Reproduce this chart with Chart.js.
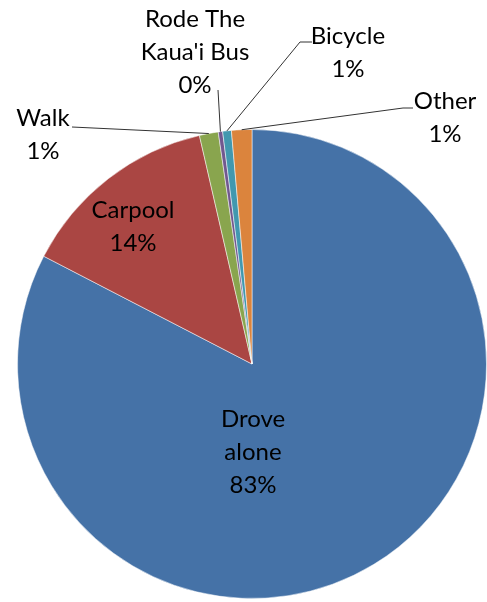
<!DOCTYPE html>
<html>
<head>
<meta charset="utf-8">
<script src="https://cdn.jsdelivr.net/npm/chart.js@4"></script>
<style>
  html, body { margin: 0; padding: 0; background: #fff; }
  #wrap { width: 487px; height: 602px; }
</style>
</head>
<body>
<div id="wrap"><canvas id="js--chart-1"></canvas></div>
<script>
const categories = ["Drove alone", "Carpool", "Walk", "Rode The Kaua'i Bus", "Bicycle", "Other"];
const shares = [82.6, 13.8, 1.3, 0.3, 0.6, 1.4];
const labelLines = [["Drove", "alone"], ["Carpool"], ["Walk"], ["Rode The", "Kaua'i Bus"], ["Bicycle"], ["Other"]];
const colors = ['#4572A7', '#AA4643', '#89A54E', '#71588F', '#4198AF', '#DB843D'];

// label spots as pixel offsets from the pie centre, lead = leader line points (from the text side)
const spots = [
    {x: 1, y: 88},
    {x: -119, y: -137},
    {x: -209, y: -229, lead: [[-180, -237]]},
    {x: -57, y: -312, lead: [[-34, -274]]},
    {x: 96, y: -311, lead: [[60, -322], [48, -322]]},
    {x: 193, y: -246, lead: [[161, -256], [151, -256]]}
];
const lineGap = 33;

const labelPlugin = {
    id: 'pieLabels',
    afterDatasetsDraw(chart) {
        const ctx = chart.ctx;
        const arcs = chart.getDatasetMeta(0).data;
        ctx.save();
        arcs.forEach((arc, i) => {
            const cx = arc.x, cy = arc.y;
            const s = spots[i];
            if (s.lead) {
                const mid = (arc.startAngle + arc.endAngle) / 2;
                ctx.beginPath();
                ctx.strokeStyle = '#333';
                ctx.lineWidth = 1;
                ctx.moveTo(cx + s.lead[0][0], cy + s.lead[0][1]);
                for (let k = 1; k < s.lead.length; k++) {
                    ctx.lineTo(cx + s.lead[k][0], cy + s.lead[k][1]);
                }
                ctx.lineTo(cx + Math.cos(mid) * arc.outerRadius, cy + Math.sin(mid) * arc.outerRadius);
                ctx.stroke();
            }
            const lines = labelLines[i].concat([Math.round(shares[i]) + '%']);
            ctx.fillStyle = '#000';
            ctx.font = '24px Lato';
            ctx.textAlign = 'center';
            ctx.textBaseline = 'middle';
            lines.forEach((t, j) => {
                ctx.fillText(t, cx + s.x, cy + s.y + (j - (lines.length - 1) / 2) * lineGap);
            });
        });
        ctx.restore();
    }
};

const config = {
    type: 'pie',
    data: {
        labels: categories,
        datasets: [{
            data: shares,
            backgroundColor: colors,
            borderColor: 'rgba(255,255,255,0.5)',
            borderWidth: 1
        }]
    },
    options: {
        responsive: true,
        maintainAspectRatio: false,
        animation: false,
        layout: { padding: { top: 128, bottom: 2, left: 17, right: 0 } },
        plugins: {
            legend: { display: false },
            tooltip: { enabled: false }
        }
    },
    plugins: [labelPlugin]
};

const chart1 = new Chart(document.getElementById("js--chart-1"), config);
</script>
</body>
</html>
